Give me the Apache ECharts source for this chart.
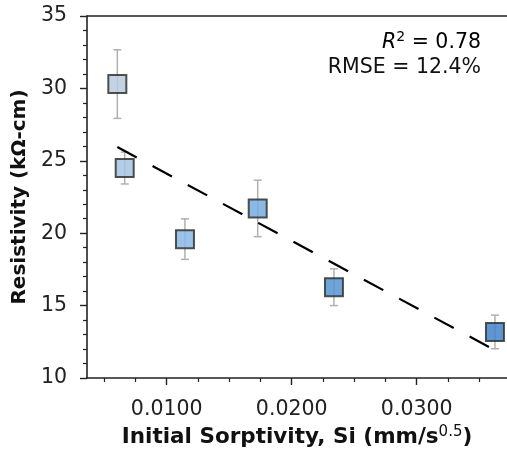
<!DOCTYPE html>
<html>
<head>
<meta charset="utf-8">
<script src="https://cdn.jsdelivr.net/npm/echarts@6/dist/echarts.min.js"></script>
<style>html,body{margin:0;padding:0;background:#fff;}#c{width:507px;height:449px;}</style>
</head>
<body>
<div id="c"></div>
<script>
// ---- data ----
const sorptivity = [0.00605, 0.00664, 0.01146, 0.01728, 0.02338, 0.03626];
const resistivity = [30.30, 24.50, 19.59, 21.71, 16.27, 13.18];
const resistivityErr = [2.37, 1.10, 1.40, 1.95, 1.27, 1.16];
const pointColors = ['rgb(184,203,222)', 'rgb(166,196,226)', 'rgb(140,183,228)', 'rgb(120,172,224)', 'rgb(87,148,210)', 'rgb(67,130,200)'];
const fitX = [0.00605, 0.03626];
const fitY = [25.95, 11.92];
const xMajorTicks = [0.01, 0.02, 0.03];
const xMinorTicks = [0.005, 0.0075, 0.0125, 0.015, 0.0175, 0.0225, 0.025, 0.0275, 0.0325, 0.035];
const yTicks = [10, 15, 20, 25, 30, 35];
const statsText = ['0.78', '12.4%'];

const FONT = 'DejaVu Sans';
const XMIN = 0.003624, XMAX = 0.037224;

const chart = echarts.init(document.getElementById('c'), null, {renderer: 'canvas'});

const errData = sorptivity.map((x, i) => [x, resistivity[i] - resistivityErr[i], resistivity[i] + resistivityErr[i]]);
const ptData = sorptivity.map((x, i) => ({value: [x, resistivity[i]], itemStyle: {color: pointColors[i]}}));

const option = {
  animation: false,
  backgroundColor: '#fff',
  grid: {left: 87, top: 16, right: 0, bottom: 71, containLabel: false, outerBoundsMode: 'none'},
  xAxis: [
    {
      type: 'value', min: XMIN, max: XMAX, position: 'bottom',
      axisLine: {show: true, lineStyle: {color: '#222', width: 1.6}},
      axisTick: {show: true, customValues: xMajorTicks, length: 7, lineStyle: {color: '#222', width: 1.4}},
      axisLabel: {show: true, customValues: xMajorTicks, formatter: v => v.toFixed(4), fontFamily: FONT, fontSize: 20.5, color: '#222', margin: 21},
      splitLine: {show: false},
      name: '{b|Initial Sorptivity, Si (mm/s}{s|0.5}{b|)}',
      nameLocation: 'middle', nameGap: 45,
      nameTextStyle: {rich: {
        b: {fontFamily: FONT, fontWeight: 'bold', fontSize: 21.5, color: '#111'},
        s: {fontFamily: FONT, fontWeight: 'normal', fontSize: 15, color: '#111', verticalAlign: 'top', padding: [0, 0, 10, 0]}
      }}
    },
    {
      type: 'value', min: XMIN, max: XMAX, position: 'bottom',
      axisLine: {show: false},
      axisTick: {show: true, customValues: xMinorTicks, length: 4, lineStyle: {color: '#222', width: 1.2}},
      axisLabel: {show: false},
      splitLine: {show: false}
    },
    {
      type: 'value', min: XMIN, max: XMAX, position: 'top',
      axisLine: {show: true, lineStyle: {color: '#222', width: 1.6}},
      axisTick: {show: false}, axisLabel: {show: false}, splitLine: {show: false}
    }
  ],
  yAxis: {
    type: 'value', min: yTicks[0], max: yTicks[yTicks.length - 1], interval: 5,
    axisLine: {show: true, lineStyle: {color: '#222', width: 1.6}},
    axisTick: {show: true, length: 7, lineStyle: {color: '#222', width: 1.4}},
    minorTick: {show: true, splitNumber: 5, length: 4, lineStyle: {color: '#222', width: 1.2}},
    axisLabel: {fontFamily: FONT, fontSize: 20.5, color: '#222', margin: 20, padding: [5, 0, 0, 0]},
    splitLine: {show: false},
    name: 'Resistivity (kΩ-cm)', nameLocation: 'middle', nameGap: 45,
    nameTextStyle: {fontFamily: FONT, fontWeight: 'bold', fontSize: 20, color: '#111'}
  },
  series: [
    {
      type: 'custom', xAxisIndex: 0, z: 1,
      data: errData,
      renderItem: function (params, api) {
        const x = api.value(0);
        const lo = api.coord([x, api.value(1)]);
        const hi = api.coord([x, api.value(2)]);
        const cw = 4;
        const st = {stroke: '#b0b0b0', lineWidth: 1.5};
        return {type: 'group', children: [
          {type: 'line', shape: {x1: lo[0], y1: lo[1], x2: hi[0], y2: hi[1]}, style: st},
          {type: 'line', shape: {x1: lo[0] - cw, y1: lo[1], x2: lo[0] + cw, y2: lo[1]}, style: st},
          {type: 'line', shape: {x1: hi[0] - cw, y1: hi[1], x2: hi[0] + cw, y2: hi[1]}, style: st}
        ]};
      }
    },
    {
      type: 'scatter', xAxisIndex: 0, z: 2,
      symbol: 'rect', symbolSize: 18,
      data: ptData,
      itemStyle: {opacity: 0.85, borderColor: '#333', borderWidth: 2}
    },
    {
      type: 'line', xAxisIndex: 0, z: 3,
      data: fitX.map((x, i) => [x, fitY[i]]),
      symbol: 'none',
      lineStyle: {color: '#000', width: 2.2, type: [22, 18]}
    }
  ],
  graphic: [
    {
      type: 'text', right: 507 - 481, top: 30,
      style: {
        text: '{i|R}{s|2}{n| = ' + statsText[0] + '}',
        align: 'right',
        rich: {
          i: {fontFamily: FONT, fontStyle: 'italic', fontSize: 20.5, color: '#111'},
          s: {fontFamily: FONT, fontSize: 14, color: '#111', verticalAlign: 'top', padding: [0, 0, 12, 0]},
          n: {fontFamily: FONT, fontSize: 20.5, color: '#111'}
        }
      }
    },
    {
      type: 'text', right: 507 - 481, top: 57,
      style: {text: 'RMSE = ' + statsText[1], fontFamily: FONT, fontSize: 20.5, fill: '#111', align: 'right'}
    }
  ]
};
chart.setOption(option);
</script>
</body>
</html>
